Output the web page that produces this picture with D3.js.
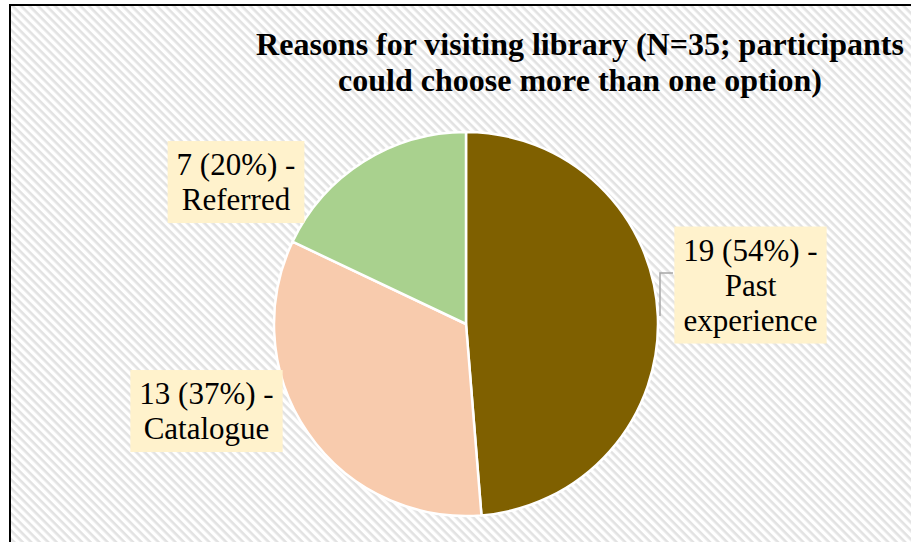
<!DOCTYPE html>
<html>
<head>
<meta charset="utf-8">
<script src="https://cdn.jsdelivr.net/npm/d3@7"></script>
</head>
<body style="margin:0;background:#fff">
<svg id="chart" width="911" height="542" style="display:block"></svg>
<script>
// Survey responses: reasons for visiting the library (multiple answers allowed)
const categories = ["Past experience", "Catalogue", "Referred"];
const counts = [19, 13, 7];
const respondents = 35;
const colors = ["#7F6000", "#F8CBAD", "#A9D18E"];
const titleLines = [
  "Reasons for visiting library (N=35; participants",
  "could choose more than one option)"
];

// Label box centres and leader line routes, in pixels
const labelLayout = {
  "Past experience": { cx: 750.5, cy: 285, leader: [[673, 273], [660, 273], [660, 316]] },
  "Catalogue": { cx: 206.5, cy: 411 },
  "Referred": { cx: 236, cy: 182 }
};

const SERIF = '"Liberation Serif"';
const W = 911, H = 542;
const svg = d3.select("#chart");

// Diagonal hatched background
const defs = svg.append("defs");
const pat = defs.append("pattern")
  .attr("id", "hatch")
  .attr("patternUnits", "userSpaceOnUse")
  .attr("width", 6).attr("height", 6)
  .attr("patternTransform", "rotate(45)");
pat.append("rect").attr("width", 6).attr("height", 6).attr("fill", "#ffffff");
pat.append("rect").attr("x", 0).attr("y", 0).attr("width", 6).attr("height", 2.6).attr("fill", "#e2e2e2");

svg.append("rect").attr("width", W).attr("height", H).attr("fill", "#fff");
svg.append("rect")
  .attr("x", 10).attr("y", 5)
  .attr("width", W + 20).attr("height", H + 20)
  .attr("fill", "url(#hatch)")
  .attr("stroke", "#000").attr("stroke-width", 2);

// Title
const title = svg.append("text")
  .style("font-family", SERIF)
  .style("font-weight", "bold")
  .style("font-size", "32px")
  .attr("text-anchor", "middle")
  .attr("fill", "#000");
titleLines.forEach((t, i) => {
  title.append("tspan").attr("x", 580).attr("y", 55 + i * 36).text(t);
});

// Pie
const cx = 466, cy = 324, r = 192;
const data = categories.map((c, i) => ({ category: c, count: counts[i], color: colors[i] }));
const pie = d3.pie().value(d => d.count).sort(null);
const arc = d3.arc().innerRadius(0).outerRadius(r);
const g = svg.append("g").attr("transform", `translate(${cx},${cy})`);
g.selectAll("path")
  .data(pie(data))
  .join("path")
  .attr("d", arc)
  .attr("fill", d => d.data.color)
  .attr("stroke", "#fff")
  .attr("stroke-width", 2.5)
  .attr("stroke-linejoin", "round");

// Leader lines
data.forEach(d => {
  const lay = labelLayout[d.category];
  if (lay.leader) {
    svg.append("polyline")
      .attr("points", lay.leader.map(p => p.join(",")).join(" "))
      .attr("fill", "none")
      .attr("stroke", "#a6a6a6")
      .attr("stroke-width", 1.5);
  }
});

// Data labels in shaded boxes
const fontSize = 31, lineGap = 35;
data.forEach(d => {
  const lay = labelLayout[d.category];
  const pct = Math.round(d.count / respondents * 100);
  const words = d.category.split(" ");
  const lines = [`${d.count} (${pct}%) -`].concat(words);
  const grp = svg.append("g");
  const box = grp.append("rect").attr("fill", "#FFF2CC");
  const txt = grp.append("text")
    .style("font-family", SERIF)
    .style("font-size", fontSize + "px")
    .attr("text-anchor", "middle")
    .attr("fill", "#000");
  const firstBase = lay.cy - (lines.length - 1) * lineGap / 2 + fontSize * 0.34;
  lines.forEach((l, i) => {
    txt.append("tspan").attr("x", lay.cx).attr("y", firstBase + i * lineGap).text(l);
  });
  const bb = txt.node().getBBox();
  const padX = 9, padY = 6;
  box.attr("x", bb.x - padX).attr("y", bb.y - padY)
    .attr("width", bb.width + 2 * padX).attr("height", bb.height + 2 * padY);
});
</script>
</body>
</html>
